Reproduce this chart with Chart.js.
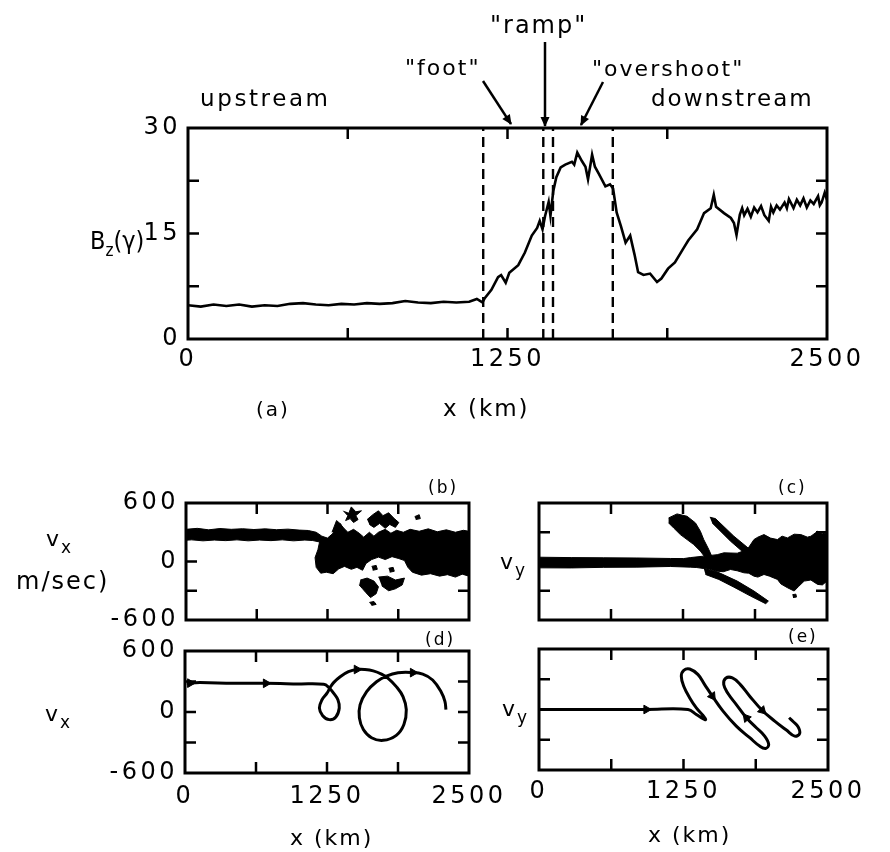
<!DOCTYPE html>
<html>
<head>
<meta charset="utf-8">
<script src="https://cdn.jsdelivr.net/npm/chart.js@4.4.1/dist/chart.umd.min.js"></script>
<style>
  body { margin: 0; background: #fff; }
  #page { position: relative; width: 890px; height: 852px; overflow: hidden; background: #fff; }
  #page canvas { position: absolute; }
  .lbl { position: absolute; font-family: 'DejaVu Sans', sans-serif; color: #000; white-space: nowrap; line-height: 1; letter-spacing: 2px; }
  .sub { position: relative; top: 7px; font-size: 17px; }
</style>
</head>
<body>
<div id="page">
  <canvas id="panelA"></canvas>
  <canvas id="panelB"></canvas>
  <canvas id="panelC"></canvas>
  <canvas id="panelD"></canvas>
  <canvas id="panelE"></canvas>

  <svg width="890" height="852" style="position:absolute;left:0;top:0">
    <defs>
      <marker id="head" viewBox="0 0 10 10" refX="9" refY="5" markerWidth="4.5" markerHeight="4" orient="auto">
        <path d="M0,0.5 L10,5 L0,9.5 z" fill="#000"/>
      </marker>
    </defs>
    <line x1="483" y1="81" x2="511" y2="124" stroke="#000" stroke-width="2.5" marker-end="url(#head)"/>
    <line x1="545" y1="42" x2="545" y2="126" stroke="#000" stroke-width="2.5" marker-end="url(#head)"/>
    <line x1="603" y1="82" x2="581" y2="125" stroke="#000" stroke-width="2.5" marker-end="url(#head)"/>
  </svg>

  <div class="lbl" style="left:200px;top:87px;font-size:23px;letter-spacing:2.6px">upstream</div>
  <div class="lbl" style="left:651px;top:87px;font-size:23px">downstream</div>
  <div class="lbl" style="left:405px;top:57px;font-size:22px">"foot"</div>
  <div class="lbl" style="left:490px;top:13px;font-size:24px">"ramp"</div>
  <div class="lbl" style="left:592px;top:58px;font-size:22px">"overshoot"</div>
  <div class="lbl" style="left:90px;top:228px;font-size:25px;letter-spacing:0;font-family:'DejaVu Sans Condensed','DejaVu Sans',sans-serif">B<span class="sub" style="font-size:17px">z</span>(γ)</div>
  <div class="lbl" style="left:256px;top:399px;font-size:20px">(a)</div>
  <div class="lbl" style="left:443px;top:397px;font-size:23px">x (km)</div>

  <div class="lbl" style="left:428px;top:479px;font-size:17px">(b)</div>
  <div class="lbl" style="left:778px;top:479px;font-size:17px">(c)</div>
  <div class="lbl" style="left:425px;top:631px;font-size:17px">(d)</div>
  <div class="lbl" style="left:788px;top:628px;font-size:17px">(e)</div>

  <div class="lbl" style="left:46px;top:528px;font-size:22px">v<span class="sub">x</span></div>
  <div class="lbl" style="left:16px;top:569px;font-size:24px">m/sec)</div>
  <div class="lbl" style="left:500px;top:551px;font-size:22px">v<span class="sub">y</span></div>
  <div class="lbl" style="left:45px;top:703px;font-size:22px">v<span class="sub">x</span></div>
  <div class="lbl" style="left:502px;top:698px;font-size:22px">v<span class="sub">y</span></div>
  <div class="lbl" style="left:290px;top:827px;font-size:22px">x (km)</div>
  <div class="lbl" style="left:648px;top:824px;font-size:22px">x (km)</div>
</div>

<script>
// ---- (a) magnetic field profile through the shock ----
const bzKm = [0, 50, 100, 150, 200, 250, 300, 350, 400, 450, 500, 550, 600, 650, 700, 750, 800, 850, 900, 950,
  1000, 1050, 1100, 1130, 1152, 1161, 1187, 1213, 1225, 1243, 1257, 1292, 1318, 1345, 1366, 1376, 1387, 1397,
  1411, 1418, 1429, 1441, 1458, 1476, 1502, 1511, 1523, 1541, 1555, 1565, 1581, 1592, 1607, 1633, 1651, 1663,
  1677, 1694, 1712, 1730, 1747, 1761, 1782, 1808, 1835, 1852, 1878, 1905, 1940, 1957, 1992, 2019, 2045, 2057,
  2066, 2097, 2124, 2136, 2146, 2159, 2168, 2176, 2189, 2202, 2215, 2228, 2242, 2255, 2272, 2281, 2290, 2303,
  2316, 2334, 2343, 2351, 2369, 2382, 2395, 2408, 2421, 2435, 2448, 2465, 2472, 2479, 2491, 2500];
const bzGamma = [4.8, 4.6, 4.9, 4.7, 4.9, 4.6, 4.8, 4.7, 5.0, 5.1, 4.9, 4.8, 5.0, 4.9, 5.1, 5.0, 5.1, 5.4, 5.2, 5.1,
  5.3, 5.2, 5.3, 5.7, 5.2, 5.8, 7.0, 8.8, 9.1, 8.0, 9.4, 10.5, 12.3, 14.7, 15.8, 16.8, 15.6, 17.5,
  19.5, 17.5, 21.0, 23.0, 24.4, 24.8, 25.2, 24.8, 26.5, 25.3, 24.5, 22.7, 26.2, 24.5, 23.5, 21.7, 22.0, 21.4,
  18.0, 16.0, 13.7, 14.7, 12.0, 9.5, 9.1, 9.3, 8.1, 8.6, 10.0, 10.9, 13.0, 14.0, 15.6, 17.9, 18.6, 20.5,
  18.8, 17.9, 17.2, 16.5, 14.8, 17.7, 18.6, 17.6, 18.5, 17.4, 18.7, 18.0, 18.9, 17.6, 16.8, 18.8, 18.0, 19.0,
  18.4, 19.4, 18.6, 19.9, 18.6, 19.8, 19.0, 20.0, 18.7, 19.7, 19.2, 20.3, 19.0, 19.4, 20.8, 19.8];
// foot start, ramp start, ramp end, overshoot end
const shockEdges = [1155, 1390, 1428, 1662];

// ---- (b) v_x phase space: dense particle regions as outlines [x km, v m/s] ----
const vxCloud = [[0, 330], [100, 340], [200, 325], [300, 338], [400, 330], [500, 336], [600, 328], [700, 335],
  [800, 326], [900, 332], [1000, 322], [1080, 318], [1150, 300], [1200, 260], [1250, 240], [1290, 280],
  [1330, 330], [1360, 390], [1395, 340], [1430, 300], [1480, 330], [1530, 290], [1570, 250], [1620, 300],
  [1660, 260], [1700, 300], [1760, 330], [1810, 290], [1860, 320], [1920, 300], [1980, 330], [2060, 310],
  [2140, 335], [2220, 305], [2300, 325], [2380, 300], [2450, 320], [2500, 310],
  [2500, -150], [2440, -130], [2380, -160], [2310, -135], [2240, -150], [2160, -125], [2080, -140], [2000, -110],
  [1960, -60], [1930, 10], [1880, 30], [1820, 50], [1760, 20], [1700, 45], [1640, 20], [1590, -20], [1560, -90],
  [1510, -60], [1460, -80], [1400, -50], [1350, -75], [1300, -125], [1240, -110], [1190, -120], [1150, -60],
  [1140, 40], [1165, 120], [1180, 200], [1120, 215], [1050, 220], [950, 212], [850, 222], [750, 214], [650, 220],
  [550, 212], [450, 222], [350, 214], [250, 220], [150, 212], [50, 222], [0, 218]];
const vxClumps = [
  [[1390, 520], [1430, 470], [1410, 420], [1450, 440], [1480, 400], [1520, 430], [1500, 470], [1550, 520], [1500, 510], [1460, 560], [1440, 500]],
  [[1600, 430], [1650, 480], [1700, 520], [1740, 470], [1790, 500], [1840, 440], [1880, 400], [1850, 350], [1800, 380], [1760, 340], [1710, 390], [1660, 350], [1620, 380]],
  [[1290, 300], [1330, 420], [1370, 380], [1360, 300]],
  [[2020, 460], [2060, 480], [2070, 440], [2030, 430]],
  [[1540, -190], [1600, -170], [1660, -200], [1700, -260], [1680, -330], [1630, -370], [1590, -320], [1560, -280], [1530, -240]],
  [[1700, -160], [1780, -150], [1850, -190], [1930, -170], [1910, -240], [1850, -280], [1790, -300], [1730, -250]],
  [[1620, -420], [1660, -410], [1680, -440], [1640, -450]],
  [[1640, -50], [1680, -40], [1690, -80], [1650, -90]],
  [[1790, -70], [1830, -60], [1840, -100], [1800, -110]]
];
const vxGaps = [
  [[1230, 30], [1260, 50], [1280, 20], [1250, 0]],
  [[2200, 120], [2230, 140], [2250, 110], [2215, 95]]
];

// ---- (c) v_y phase space ----
const vyCloud = [[0, 44], [280, 40], [558, 38], [850, 36], [1140, 31], [1256, 30], [1314, 40], [1430, 55], [1547, 70],
  [1605, 89], [1721, 85], [1779, 110], [1808, 123], [1866, 225], [1900, 250], [1953, 276], [2010, 240], [2070, 225],
  [2110, 260], [2157, 242], [2215, 280], [2273, 276], [2330, 250], [2360, 259], [2419, 310], [2460, 285], [2500, 293],
  [2500, -201], [2460, -240], [2419, -235], [2360, -190], [2302, -201], [2250, -260], [2215, -303], [2157, -269],
  [2100, -230], [2070, -184], [2000, -150], [1953, -133], [1900, -160], [1866, -150], [1820, -120], [1779, -116],
  [1720, -95], [1663, -82], [1600, -105], [1547, -99], [1480, -80], [1430, -72], [1370, -62], [1314, -58],
  [1140, -51], [850, -58], [558, -60], [280, -66], [0, -65]];
const vyStreaks = [
  [[1125, 447], [1198, 488], [1285, 464], [1358, 396], [1401, 310], [1430, 225], [1474, 123], [1503, 44], [1445, 38],
   [1401, 106], [1343, 174], [1285, 225], [1227, 276], [1169, 344], [1125, 396]],
  [[1483, 454], [1532, 440], [1692, 259], [1866, 89], [1881, 31], [1823, 44], [1663, 208], [1503, 396]],
  [[1430, -72], [1547, -106], [1721, -201], [1866, -303], [1991, -406], [1968, -433], [1837, -355], [1692, -263],
   [1561, -184], [1445, -133]],
  [[2200, -340], [2230, -335], [2235, -365], [2205, -370]]
];
const vyGaps = [
  [[2150, 10], [2180, 25], [2190, -5], [2160, -15]],
  [[2320, -160], [2350, -150], [2355, -180], [2325, -185]]
];

// ---- (d) single ion orbit, v_x ----
const orbitVx = [[15, 282], [131, 289], [422, 282], [712, 282], [1003, 276], [1221, 272], [1265, 243], [1308, 185],
  [1346, 120], [1358, 39], [1328, -49], [1270, -75], [1212, -36], [1183, 39], [1206, 120], [1250, 185], [1279, 243],
  [1308, 289], [1366, 347], [1439, 396], [1512, 418], [1584, 418], [1657, 405], [1730, 373], [1788, 331], [1860, 250],
  [1919, 152], [1948, 23], [1927, -123], [1860, -230], [1744, -279], [1642, -253], [1570, -172], [1535, -58],
  [1541, 71], [1599, 201], [1686, 298], [1773, 353], [1875, 386], [1991, 389], [2093, 373], [2180, 315], [2253, 201],
  [2288, 104], [2297, 23]];
const orbitVxArrows = [[45, 284], [712, 282], [1512, 418], [2006, 387]];

// ---- (e) single ion orbit, v_y ----
const orbitVy = [[6, 0], [554, 0], [929, 0], [1289, 0], [1361, -49], [1419, -92], [1442, -99], [1419, -59],
  [1361, 16], [1304, 115], [1252, 231], [1231, 330], [1252, 389], [1304, 402], [1376, 346], [1433, 247], [1500, 132],
  [1592, -16], [1707, -165], [1823, -280], [1909, -363], [1961, -386], [1987, -346], [1952, -264], [1880, -181],
  [1794, -82], [1707, 49], [1635, 158], [1598, 247], [1615, 310], [1673, 313], [1742, 247], [1823, 132], [1932, -10],
  [2039, -115], [2140, -204], [2212, -264], [2255, -237], [2241, -171], [2198, -119], [2163, -82]];
const orbitVyArrows = [[929, 0], [1500, 132], [1794, -82], [1932, -10]];
const orbitVyArrowTurn = [90, 145, 320, 135];

const kmTicks = [625, 1250, 1875];

Chart.defaults.font.family = "'DejaVu Sans', sans-serif";
Chart.defaults.color = '#000';

const pts = pairs => pairs.map(([x, y]) => ({ x, y }));

function blob(pairs, color) {
  return { data: pts(pairs), fill: 'shape', backgroundColor: color, borderColor: color,
    borderWidth: 1, pointRadius: 0, tension: 0 };
}

// box, inward tick marks on all four sides
const framePlugin = {
  id: 'frame',
  beforeDraw(chart) { chart.ctx.letterSpacing = '3.5px'; },
  afterDatasetsDraw(chart, args, o) {
    const { ctx, chartArea: a, scales: { x, y } } = chart;
    ctx.save();
    ctx.strokeStyle = '#000';
    ctx.lineWidth = 2.5;
    ctx.beginPath();
    o.xMarks.forEach(v => {
      const px = x.getPixelForValue(v);
      ctx.moveTo(px, a.top); ctx.lineTo(px, a.top + o.len);
      ctx.moveTo(px, a.bottom); ctx.lineTo(px, a.bottom - o.len);
    });
    o.yMarks.forEach(v => {
      const py = y.getPixelForValue(v);
      ctx.moveTo(a.left, py); ctx.lineTo(a.left + o.len, py);
      ctx.moveTo(a.right, py); ctx.lineTo(a.right - o.len, py);
    });
    ctx.stroke();
    ctx.lineWidth = 3;
    ctx.strokeRect(a.left, a.top, a.right - a.left, a.bottom - a.top);
    ctx.restore();
  }
};

const PAD_L = 90, PAD_T = 24, PAD_R = 64, PAD_B = 48;

function makePanel(id, frame, o) {
  const [l, t, r, b] = frame;
  const cv = document.getElementById(id);
  cv.style.left = (l - PAD_L) + 'px';
  cv.style.top = (t - PAD_T) + 'px';
  cv.width = r - l + PAD_L + PAD_R;
  cv.height = b - t + PAD_T + PAD_B;
  return new Chart(cv, {
    type: 'line',
    data: { datasets: o.datasets },
    plugins: [framePlugin],
    options: {
      responsive: false,
      animation: false,
      events: [],
      layout: { padding: { left: 0, top: PAD_T, right: PAD_R, bottom: 0 } },
      elements: { point: { radius: 0 }, line: { borderColor: '#000' } },
      plugins: {
        legend: { display: false },
        tooltip: { enabled: false },
        frame: { xMarks: kmTicks, yMarks: o.yMarks, len: 11 }
      },
      scales: {
        x: {
          type: 'linear', min: 0, max: 2500,
          afterFit: s => { s.height = PAD_B; },
          grid: { display: false, drawTicks: false },
          border: { display: false },
          ticks: { display: o.xLabels, stepSize: 1250, autoSkip: false, maxRotation: 0,
            padding: o.xPad, font: { size: 24 }, color: '#000', callback: v => String(v) }
        },
        y: {
          type: 'linear', min: o.yMin, max: o.yMax,
          afterFit: s => { s.width = PAD_L; },
          grid: { display: false, drawTicks: false },
          border: { display: false },
          ticks: { display: o.yLabels, stepSize: o.yStep, autoSkip: false,
            padding: 7, font: { size: 24 }, color: '#000', callback: v => String(v) }
        }
      }
    }
  });
}

makePanel('panelA', [188, 128, 827, 339], {
  yMin: 0, yMax: 30, yStep: 15, yMarks: [7.5, 15, 22.5], xLabels: true, yLabels: true, xPad: 6,
  datasets: [
    { data: bzKm.map((x, i) => ({ x, y: bzGamma[i] })), borderColor: '#000', borderWidth: 2.6, tension: 0, pointRadius: 0 },
    ...shockEdges.map(x => ({ data: [{ x, y: 0 }, { x, y: 30 }], borderColor: '#000', borderWidth: 2.4,
      borderDash: [10, 6], pointRadius: 0 }))
  ]
});

makePanel('panelB', [186, 503, 469, 620], {
  yMin: -600, yMax: 600, yStep: 600, yMarks: [-300, 0, 300], xLabels: false, yLabels: true, xPad: 8,
  datasets: [blob(vxCloud, '#000'), ...vxClumps.map(c => blob(c, '#000')), ...vxGaps.map(c => blob(c, '#fff'))]
});

makePanel('panelC', [539, 503, 827, 620], {
  yMin: -600, yMax: 600, yStep: 600, yMarks: [-300, 0, 300], xLabels: false, yLabels: false, xPad: 8,
  datasets: [blob(vyCloud, '#000'), ...vyStreaks.map(c => blob(c, '#000')), ...vyGaps.map(c => blob(c, '#fff'))]
});

makePanel('panelD', [185, 651, 469, 773], {
  yMin: -600, yMax: 600, yStep: 600, yMarks: [-300, 0, 300], xLabels: true, yLabels: true, xPad: 9,
  datasets: [
    { data: pts(orbitVx), borderColor: '#000', borderWidth: 3, tension: 0.4, pointRadius: 0 },
    { data: pts(orbitVxArrows), showLine: false, pointStyle: 'triangle', pointRadius: 5, pointRotation: 90,
      pointBackgroundColor: '#000', pointBorderColor: '#000' }
  ]
});

makePanel('panelE', [539, 649, 828, 770], {
  yMin: -600, yMax: 600, yStep: 600, yMarks: [-300, 0, 300], xLabels: true, yLabels: false, xPad: 7,
  datasets: [
    { data: pts(orbitVy), borderColor: '#000', borderWidth: 3, tension: 0.4, pointRadius: 0 },
    { data: pts(orbitVyArrows), showLine: false, pointStyle: 'triangle', pointRadius: 5, pointRotation: orbitVyArrowTurn,
      pointBackgroundColor: '#000', pointBorderColor: '#000' }
  ]
});
</script>
</body>
</html>
